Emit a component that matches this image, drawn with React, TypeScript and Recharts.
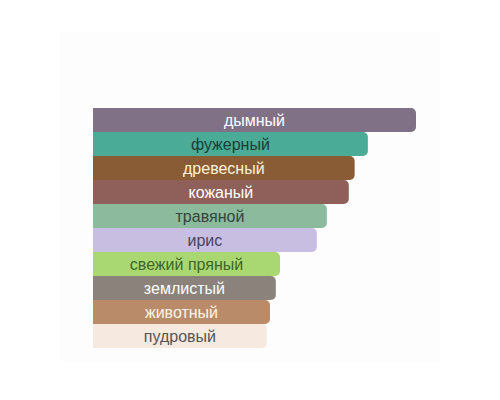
import { Bar, BarChart, Cell, LabelList, XAxis, YAxis } from "recharts";

const notes = [
  "дымный", "фужерный", "древесный", "кожаный", "травяной",
  "ирис", "свежий пряный", "землистый", "животный", "пудровый",
];
const strength = [100, 85.1, 81, 79.2, 72.4, 69.3, 57.9, 56.6, 54.8, 53.8];
const barColors = [
  "#807187", "#4aac97", "#8a5c36", "#8f605a", "#8bba9c",
  "#c7bee2", "#a9d873", "#8b827b", "#ba8b68", "#f5e9e0",
];
const textColors = [
  "#ffffff", "#1c3c36", "#fff3d8", "#ffffff", "#34463c",
  "#4a4262", "#3d6628", "#ffffff", "#fff6ea", "#555555",
];

const data = notes.map((name, i) => ({ name, value: strength[i] }));

const renderLabel = (props: any) => {
  const { x, y, width, height, index } = props;
  return (
    <text
      x={x + width / 2}
      y={y + height / 2}
      textAnchor="middle"
      dominantBaseline="central"
      fill={textColors[index]}
      fontSize={16}
      fontFamily="Arial, 'Liberation Sans', sans-serif"
    >
      {notes[index]}
    </text>
  );
};

export default function App() {
  return (
    <div style={{ position: "fixed", left: 0, top: 0, width: 500, height: 400, background: "#fff" }}>
      <div style={{ position: "absolute", left: 60, top: 32, width: 380, height: 330, background: "#fdfdfd" }} />
      <div style={{ position: "absolute", left: 0, top: 0 }}>
        <BarChart
          width={500}
          height={400}
          data={data}
          layout="vertical"
          margin={{ top: 108, right: 84, bottom: 52, left: 93 }}
          barCategoryGap={0}
        >
          <XAxis type="number" domain={[0, 100]} hide />
          <YAxis type="category" dataKey="name" hide />
          <Bar dataKey="value" radius={[0, 5, 5, 0]} isAnimationActive={false}>
            {data.map((_, i) => (
              <Cell key={i} fill={barColors[i]} />
            ))}
            <LabelList dataKey="name" content={renderLabel} />
          </Bar>
        </BarChart>
      </div>
    </div>
  );
}
